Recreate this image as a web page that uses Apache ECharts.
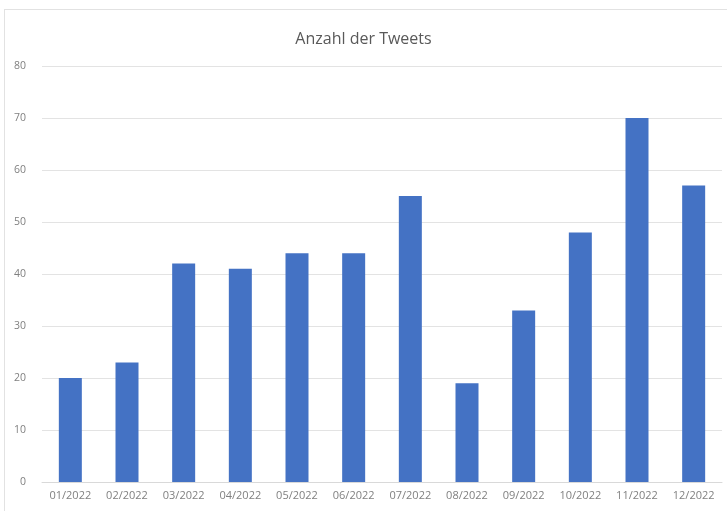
<!DOCTYPE html>
<html>
<head>
<meta charset="utf-8">
<script src="https://cdn.jsdelivr.net/npm/echarts@6/dist/echarts.min.js"></script>
<style>
  html, body { margin: 0; padding: 0; background: #fff; }
  #frame { position: absolute; left: 4px; top: 9px; width: 740px; height: 520px; border: 1px solid #e2e2e2; }
  #main { position: absolute; left: 0; top: 0; width: 727px; height: 511px; }
</style>
</head>
<body>
<div id="frame"></div>
<div id="main"></div>
<script>
const title = 'Anzahl der Tweets'
const months = ['01/2022', '02/2022', '03/2022', '04/2022', '05/2022', '06/2022',
  '07/2022', '08/2022', '09/2022', '10/2022', '11/2022', '12/2022']
const tweets = [20, 23, 42, 41, 44, 44, 55, 19, 33, 48, 70, 57]

const chart = echarts.init(document.getElementById('main'))
chart.setOption({
  animation: false,
  title: {
    text: title,
    left: 'center',
    top: 26,
    textStyle: { fontFamily: 'Open Sans', fontSize: 16, fontWeight: 'normal', color: '#595959' }
  },
  grid: { left: 42, right: 5, top: 66, bottom: 29 },
  xAxis: {
    type: 'category',
    data: months,
    axisLine: { lineStyle: { color: '#d9d9d9' } },
    axisTick: { show: false },
    axisLabel: { fontFamily: 'Open Sans', fontSize: 11, color: '#808080', margin: 8, interval: 0 }
  },
  yAxis: {
    type: 'value',
    min: 0,
    max: 80,
    interval: 10,
    axisLabel: { fontFamily: 'Open Sans', fontSize: 10.5, color: '#808080', margin: 16 },
    splitLine: { lineStyle: { color: '#e3e3e3' } }
  },
  series: [{
    name: title,
    type: 'bar',
    data: tweets,
    barWidth: 23,
    itemStyle: { color: '#4472c4' }
  }]
})
</script>
</body>
</html>
